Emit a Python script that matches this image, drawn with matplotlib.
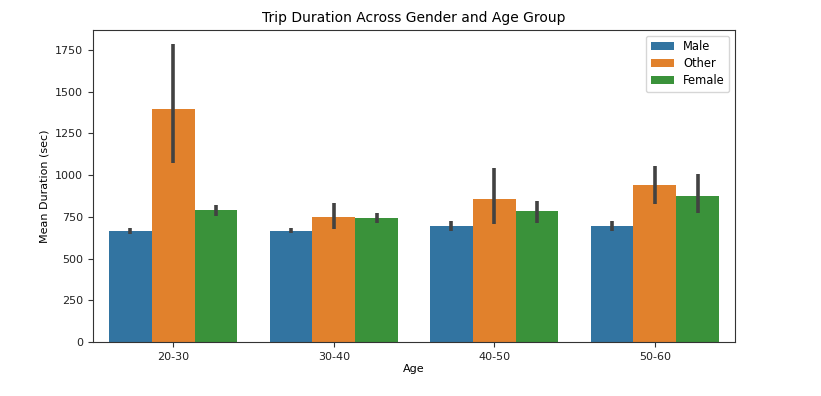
import matplotlib
matplotlib.use("Agg")
import matplotlib.pyplot as plt
import numpy as np

age_groups = ["20-30", "30-40", "40-50", "50-60"]
genders = ["Male", "Other", "Female"]
colors = ["#3274a1", "#e1812c", "#3a923a"]

mean_male = [667, 667, 693, 693]
mean_other = [1398, 749, 859, 943]
mean_female = [789, 741, 783, 873]

ci_low_male = [646, 652, 665, 663]
ci_high_male = [685, 682, 723, 723]
ci_low_other = [1071, 679, 705, 829]
ci_high_other = [1785, 831, 1044, 1053]
ci_low_female = [755, 711, 715, 771]
ci_high_female = [821, 775, 845, 1005]

means = [mean_male, mean_other, mean_female]
lows = [ci_low_male, ci_low_other, ci_low_female]
highs = [ci_high_male, ci_high_other, ci_high_female]

fig = plt.figure(figsize=(8.21, 3.96), dpi=100)
ax = fig.add_axes([0.1133, 0.1364, 0.7820, 0.7878])

x = np.arange(len(age_groups))
w = 0.8 / 3
for i, g in enumerate(genders):
    pos = x - 0.4 + w / 2 + i * w
    ax.bar(pos, means[i], width=w, color=colors[i], label=g)
    ax.vlines(pos, lows[i], highs[i], color="#424242", linewidth=2.6, zorder=3)

ax.set_xlim(-0.5, 3.5)
ax.set_ylim(0, 1869)
ax.set_xticks(x)
ax.set_xticklabels(age_groups)
ax.set_yticks([0, 250, 500, 750, 1000, 1250, 1500, 1750])
ax.tick_params(labelsize=8, colors="#333333", labelcolor="#222222")
ax.set_xlabel("Age", fontsize=8, labelpad=2)
ax.set_ylabel("Mean Duration (sec)", fontsize=8)
ax.set_title("Trip Duration Across Gender and Age Group", fontsize=10, pad=6)
ax.legend(loc="upper right", fontsize=8.3, handlelength=2.0, borderpad=0.4,
          labelspacing=0.35)
for s in ax.spines.values():
    s.set_color("#333333")

fig.savefig("out.png", dpi=100)
